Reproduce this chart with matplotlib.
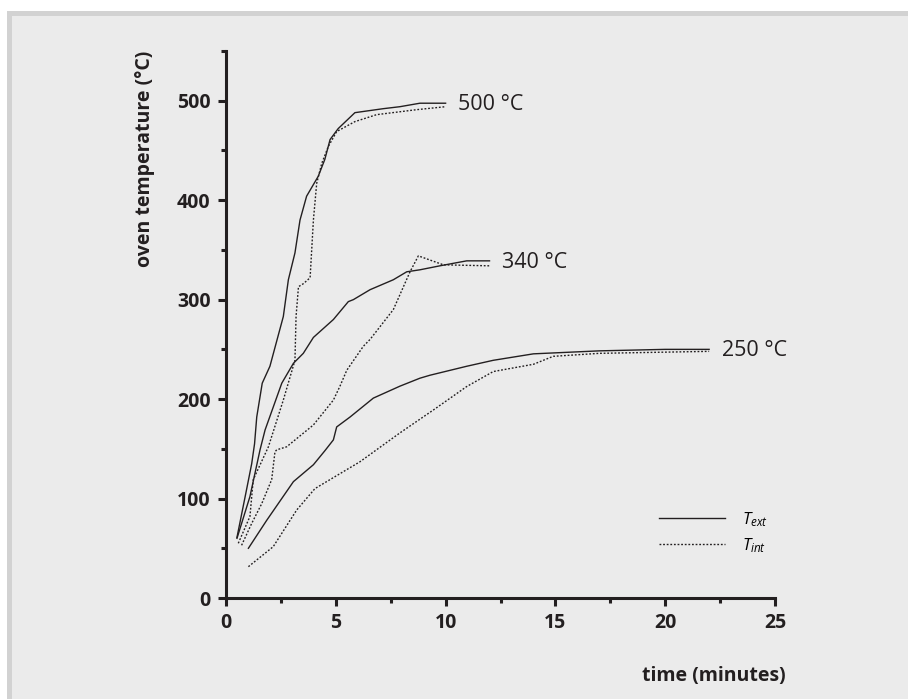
import matplotlib
matplotlib.use("Agg")
import matplotlib.pyplot as plt
from matplotlib.patches import Rectangle
from matplotlib.ticker import MultipleLocator

# ── data (time in minutes, temperature in °C) ──
t500_ext_x = [0.5, 0.9, 1.17, 1.3, 1.4, 1.65, 2.0, 2.61, 2.84, 3.14, 3.37, 3.67,
              4.2, 4.5, 4.74, 5.11, 5.87, 7.16, 7.92, 8.83, 10.0]
t500_ext_y = [61, 105, 135, 155, 182, 216, 233, 283, 320, 347, 380, 404,
              424, 441, 461, 472, 488, 492, 494, 497.5, 497.5]
t500_int_x = [0.56, 1.09, 1.24, 1.93, 2.61, 3.14, 3.19, 3.3, 3.52, 3.83, 3.98,
              4.13, 4.36, 4.66, 5.04, 5.87, 6.86, 8.68, 10.0]
t500_int_y = [55, 82, 119, 152, 199, 239, 283, 313, 316, 322, 380,
              417, 437, 454, 469, 479, 486, 491, 494]

t340_ext_x = [0.5, 1.09, 1.55, 1.78, 2.54, 3.07, 3.52, 3.98, 4.89, 5.57, 5.8,
              6.56, 7.62, 8.23, 8.83, 9.74, 10.96, 12.0]
t340_ext_y = [60, 102, 149, 169, 216, 236, 246, 262, 280, 298, 300,
              310, 320, 328, 330, 334, 339, 339]
t340_int_x = [0.71, 1.17, 1.63, 2.08, 2.23, 2.31, 2.76, 3.98, 4.89, 5.19, 5.5,
              6.25, 6.56, 7.62, 8.38, 8.76, 9.9, 12.0]
t340_int_y = [53, 75, 95, 119, 147, 149, 152, 174, 199, 213, 229,
              253, 260, 290, 328, 344, 335, 334]

t250_ext_x = [1.02, 1.85, 3.07, 3.98, 4.5, 4.89, 5.04, 5.65, 6.71, 7.92, 8.83,
              9.29, 10.96, 12.17, 14.0, 15.5, 17.0, 20.0, 22.0]
t250_ext_y = [50, 78, 117, 134, 148, 159, 172, 182, 201, 213, 221,
              224, 233, 239, 245.5, 247, 248.5, 250, 250]
t250_int_x = [1.02, 2.15, 3.22, 4.05, 6.1, 7.92, 9.44, 10.96, 12.17, 14.0,
              14.9, 17.0, 22.0]
t250_int_y = [31.5, 51.6, 88.5, 110, 137, 166, 189, 212.6, 227.7, 235,
              243, 246, 248]

end_labels = ["500 °C", "340 °C", "250 °C"]

INK = "#231f20"
PANEL = "#ebebeb"
DOTS = (0, (1.3, 1.3))

plt.rcParams["font.family"] = ["Open Sans", "DejaVu Sans"]
plt.rcParams["mathtext.fontset"] = "custom"
plt.rcParams["mathtext.it"] = "Open Sans:italic"
plt.rcParams["mathtext.rm"] = "Open Sans"

fig = plt.figure(figsize=(9.08, 6.99), dpi=100, facecolor="white")
fig.patches.append(Rectangle((8.5 / 908, -0.02), 1.05, 1 - 12.5 / 699 + 0.02,
                             transform=fig.transFigure, facecolor=PANEL,
                             edgecolor="#d2d2d2", linewidth=3.6, zorder=-5))

ax = fig.add_axes([226 / 908, 1 - 598 / 699, 549 / 908, 547 / 699])
ax.set_facecolor("none")

lw = 1.0
ax.plot(t500_ext_x, t500_ext_y, color=INK, lw=lw, label=r"$\mathit{T}_{\mathit{ext}}$")
ax.plot(t500_int_x, t500_int_y, color=INK, lw=lw, ls=DOTS, label=r"$\mathit{T}_{\mathit{int}}$")
ax.plot(t340_ext_x, t340_ext_y, color=INK, lw=lw)
ax.plot(t340_int_x, t340_int_y, color=INK, lw=lw, ls=DOTS)
ax.plot(t250_ext_x, t250_ext_y, color=INK, lw=lw)
ax.plot(t250_int_x, t250_int_y, color=INK, lw=lw, ls=DOTS)

# end-of-curve labels
ends = [(t500_ext_x[-1], t500_ext_y[-1]), (t340_ext_x[-1], t340_ext_y[-1]),
        (t250_ext_x[-1], t250_ext_y[-1])]
for (xe, ye), lab in zip(ends, end_labels):
    ax.annotate(lab, (xe, ye), xytext=(9, -1), textcoords="offset points",
                ha="left", va="center", fontsize=15.5, color=INK)

ax.set_xlim(0, 25)
ax.set_ylim(0, 550)
ax.xaxis.set_major_locator(MultipleLocator(5))
ax.xaxis.set_minor_locator(MultipleLocator(2.5))
ax.yaxis.set_major_locator(MultipleLocator(100))
ax.yaxis.set_minor_locator(MultipleLocator(50))

for s in ["top", "right"]:
    ax.spines[s].set_visible(False)
for s in ["left", "bottom"]:
    ax.spines[s].set_linewidth(2.2)
    ax.spines[s].set_color(INK)

ax.tick_params(which="major", direction="out", length=6, width=2.2, color=INK,
               labelsize=14, labelcolor=INK, pad=5)
ax.tick_params(which="minor", direction="out", length=3.5, width=2.2, color=INK)
for lab in ax.get_xticklabels() + ax.get_yticklabels():
    lab.set_fontweight("bold")

ax.set_ylabel("oven temperature (°C)", fontsize=14, fontweight="bold", color=INK,
              loc="top")
ax.yaxis.set_label_coords(-0.13, 1.0)
ax.set_xlabel("time (minutes)", fontsize=14, fontweight="bold", color=INK,
              loc="right")
ax.xaxis.set_label_coords(1.02, -0.125)

ax.legend(loc="center left", bbox_to_anchor=(0.788, 0.12), frameon=False,
          handlelength=4.0, handletextpad=1.0, labelspacing=0.45, fontsize=12,
          borderpad=0, borderaxespad=0)

fig.savefig("out.png", dpi=100, facecolor="white")
